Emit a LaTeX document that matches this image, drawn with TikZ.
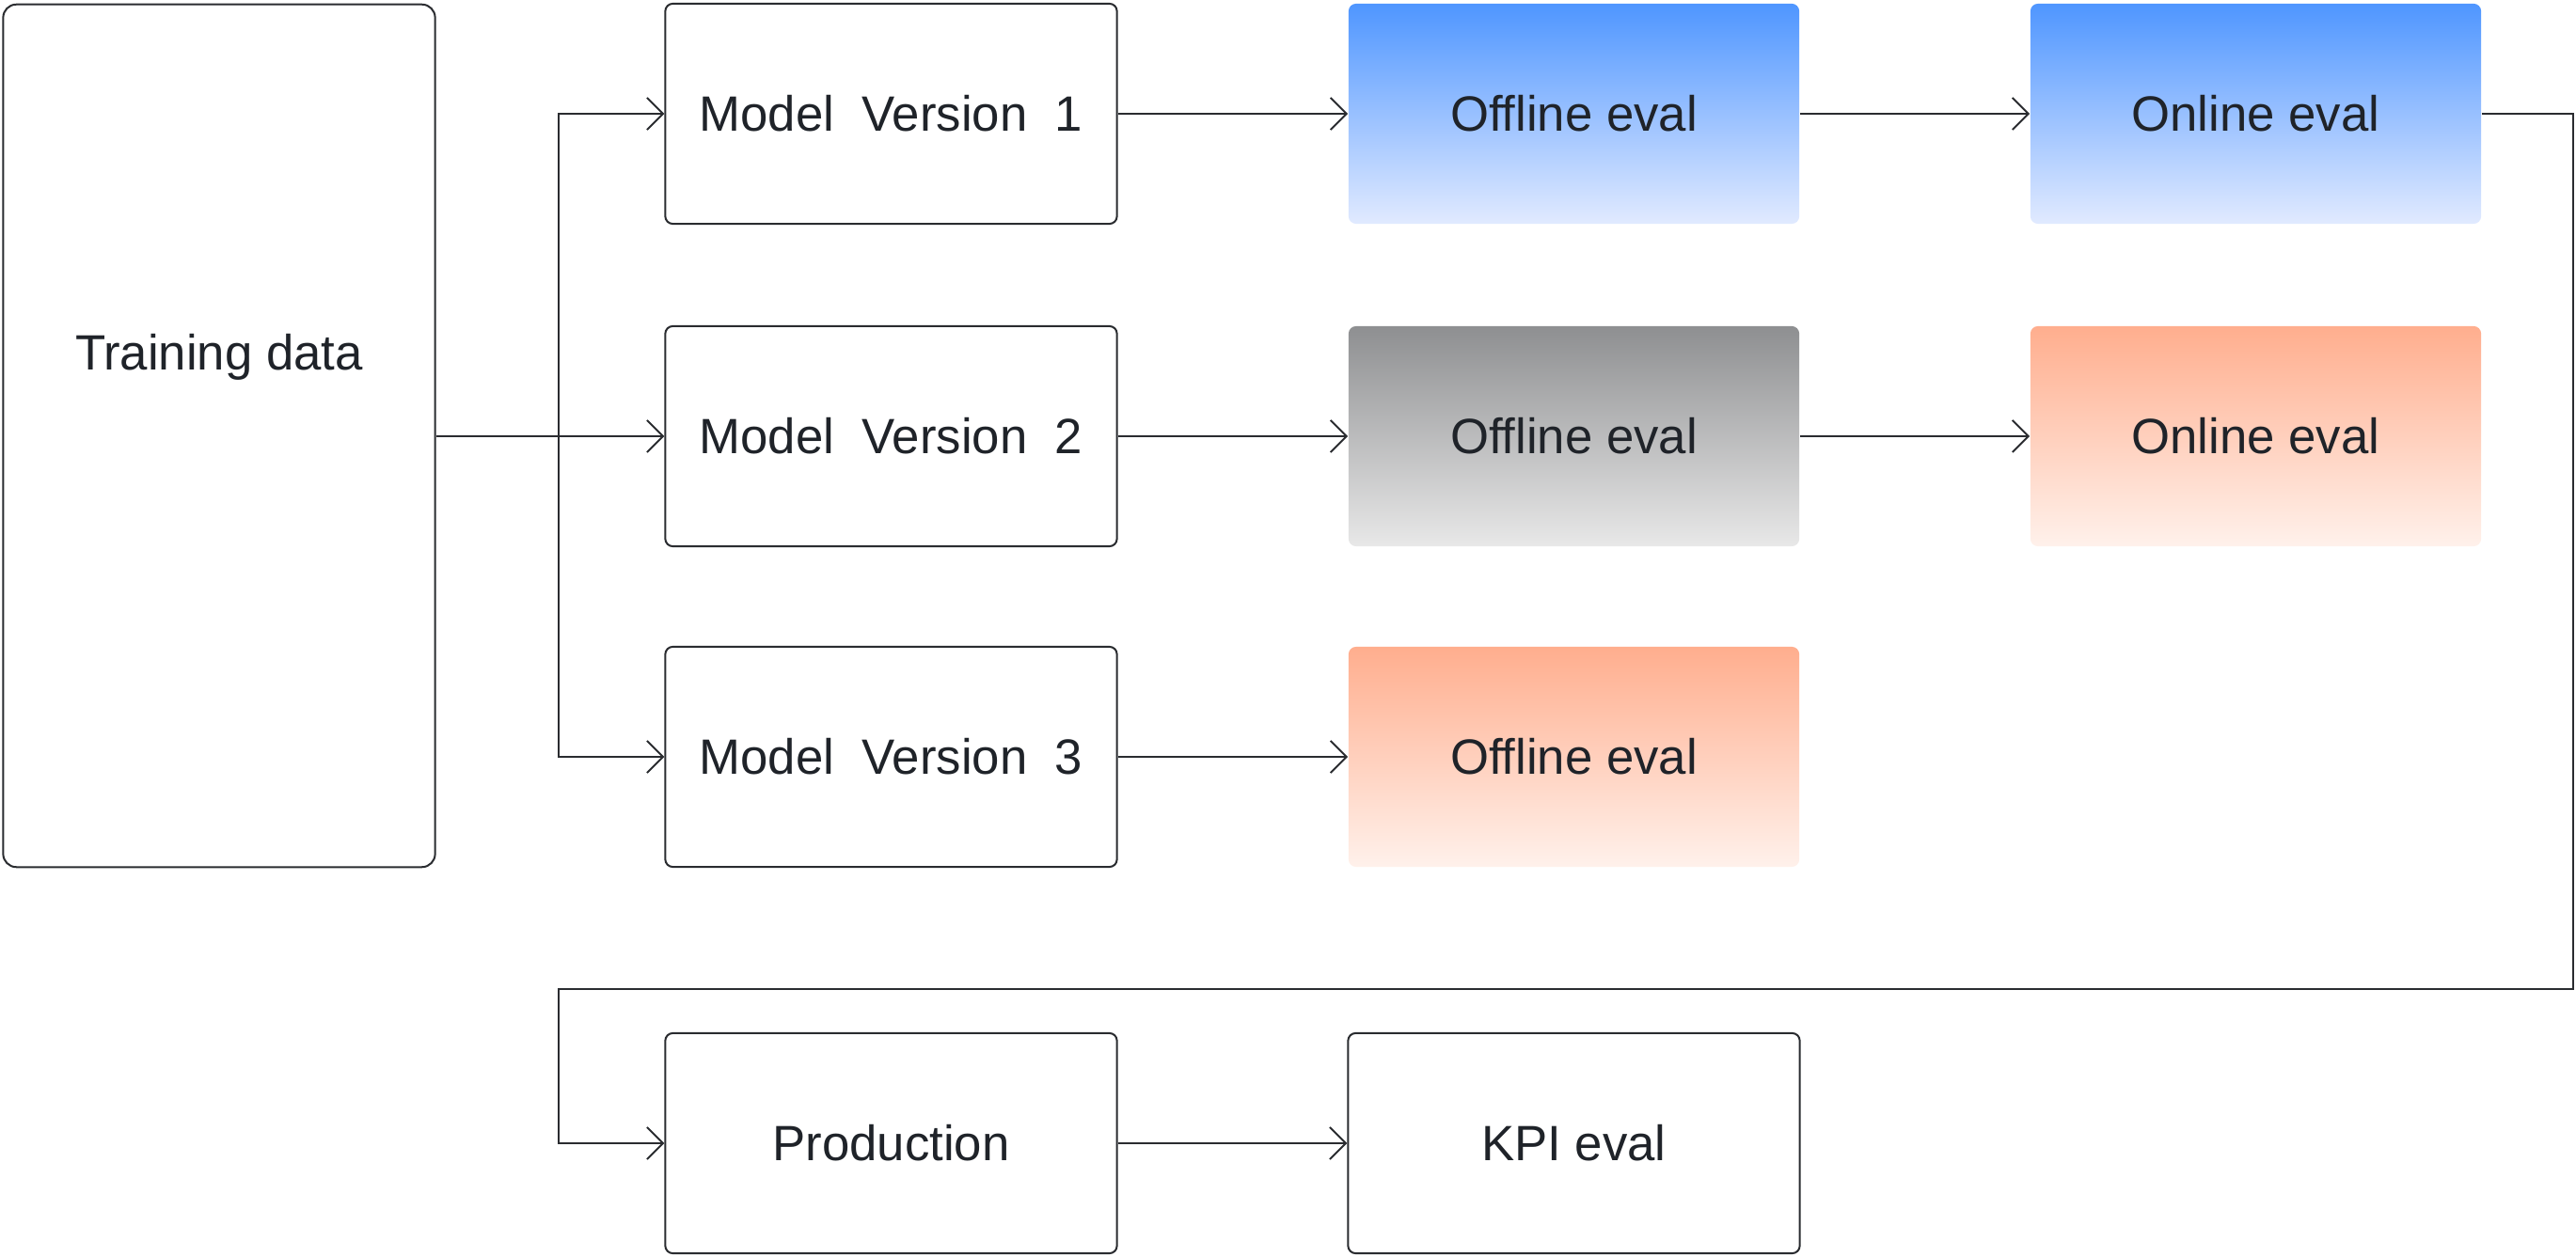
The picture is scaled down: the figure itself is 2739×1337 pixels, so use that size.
\documentclass[tikz,border=0pt]{standalone}
\usepackage{fontspec}
\setmainfont{Liberation Sans}
\usepackage{xcolor}
\usetikzlibrary{arrows.meta, positioning, calc}

\definecolor{inkline}{HTML}{2A2C30}
\definecolor{inktext}{HTML}{1F2329}
\definecolor{blueTop}{HTML}{4F96FF}
\definecolor{blueBot}{HTML}{E1EAFF}
\definecolor{grayTop}{HTML}{8E8F91}
\definecolor{grayBot}{HTML}{E8E8E8}
\definecolor{peachTop}{HTML}{FFAE8E}
\definecolor{peachBot}{HTML}{FFF1EB}

\begin{document}
\begin{tikzpicture}[x=0.01cm, y=-0.01cm,
    every node/.style={font=\fontsize{15}{18}\selectfont, text=inktext},
    box/.style={draw=inkline, line width=0.57pt, rounded corners=0.08cm,
                minimum width=4.8cm, minimum height=2.34cm, inner sep=0pt},
    evalbox/.style={rounded corners=0.08cm, minimum width=4.79cm,
                    minimum height=2.34cm, inner sep=0pt},
    bluebox/.style={evalbox, top color=blueTop, bottom color=blueBot},
    graybox/.style={evalbox, top color=grayTop, bottom color=grayBot},
    peachbox/.style={evalbox, top color=peachTop, bottom color=peachBot},
    arr/.style={draw=inkline, line width=0.57pt,
                -{Straight Barb[length=0.17cm, width=0.34cm]}}]
    \useasboundingbox (0,0) rectangle (2739,1337);

    % tall data box, its text sits above the middle
    \node[box, rounded corners=0.14cm, minimum width=4.59cm, minimum height=9.17cm,
          label={[yshift=0.84cm]center:Training data}] (train) at (233,463.5) {};

    \node[box] (mv1) at (947.5,121) {Model\ \ Version\ \ 1};
    \node[box] (mv2) at (947.5,464) {Model\ \ Version\ \ 2};
    \node[box] (mv3) at (947.5,805) {Model\ \ Version\ \ 3};

    \node[bluebox]  (off1) at (1673.5,121) {Offline eval};
    \node[graybox]  (off2) at (1673.5,464) {Offline eval};
    \node[peachbox] (off3) at (1673.5,805) {Offline eval};

    \node[bluebox]  (on1) at (2398.5,121) {Online eval};
    \node[peachbox] (on2) at (2398.5,464) {Online eval};

    \node[box] (prod) at (947.5,1216) {Production};
    \node[box] (kpi)  at (1673.5,1216) {KPI eval};

    % split point and the feedback loop corners
    \coordinate (split) at (594,464);
    \coordinate (loopR) at (2735.5,1051.5);
    \coordinate (loopL) at (594,1051.5);

    \draw[arr] (train.east |- mv2.west) -- (mv2.west);
    \draw[arr] (split) |- (mv1.west);
    \draw[arr] (split) |- (mv3.west);

    \draw[arr] (mv1) -- (off1);
    \draw[arr] (mv2) -- (off2);
    \draw[arr] (mv3) -- (off3);
    \draw[arr] (off1) -- (on1);
    \draw[arr] (off2) -- (on2);

    \draw[arr] (on1.east) -| (loopR) -- (loopL) |- (prod.west);
    \draw[arr] (prod) -- (kpi);
\end{tikzpicture}
\end{document}
